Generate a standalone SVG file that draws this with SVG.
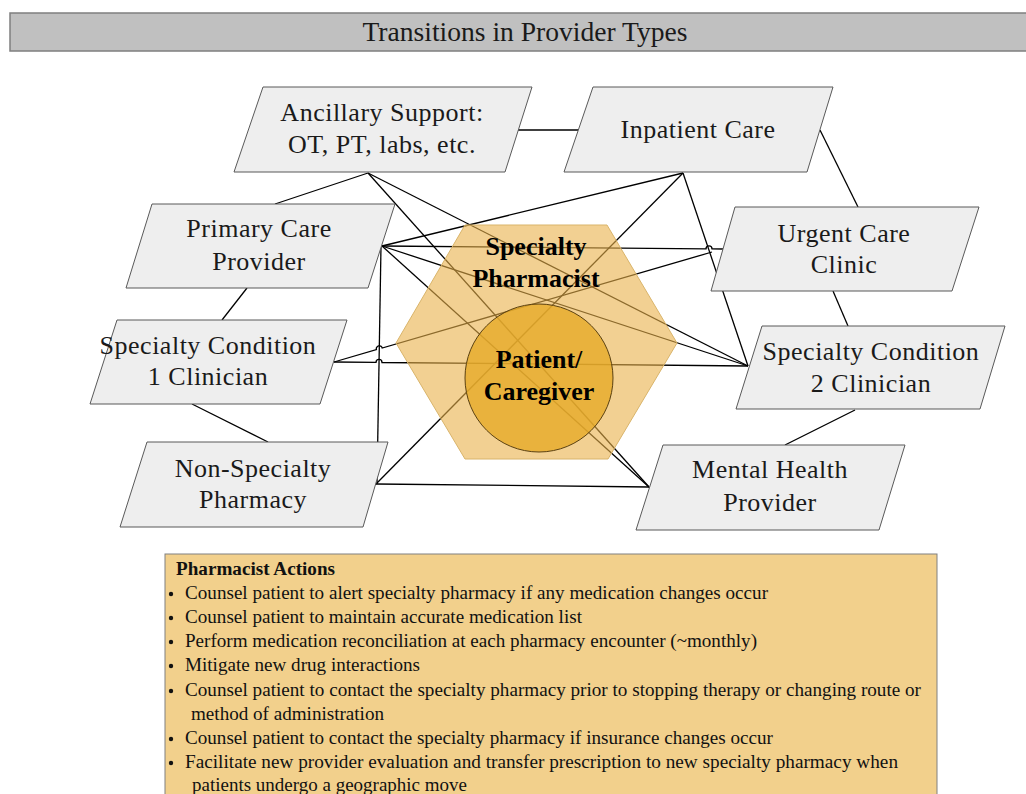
<svg xmlns="http://www.w3.org/2000/svg" width="1026" height="794" viewBox="0 0 1026 794">
<style>
.node{fill:#eeeeee;stroke:#595959;stroke-width:1}
.lbl{font-family:"Liberation Serif","Times New Roman",serif;font-size:26px;letter-spacing:0.5px;fill:#1a1a1a;text-anchor:middle}
.ctr{font-family:"Liberation Serif","Times New Roman",serif;font-size:26px;font-weight:bold;fill:#000;text-anchor:middle}
.conn{fill:none;stroke:#000;stroke-width:1.3}
.act{font-family:"Liberation Serif","Times New Roman",serif;font-size:18.5px;fill:#111}
</style>
<rect width="1026" height="794" fill="#ffffff"/>
<g id="title">
<rect x="10" y="13" width="1030" height="38" fill="#c0c0c0" stroke="#7f7f7f" stroke-width="1.5"/>
<text x="525" y="41" font-family="Liberation Serif, Times New Roman, serif" font-size="27" fill="#1a1a1a" text-anchor="middle" textLength="325" lengthAdjust="spacingAndGlyphs">Transitions in Provider Types</text>
</g>
<g id="connectors" class="conn">
<line x1="518" y1="130" x2="578" y2="130"/>
<line x1="368" y1="173" x2="275" y2="204"/>
<line x1="820" y1="130" x2="858" y2="207"/>
<line x1="833" y1="291" x2="848" y2="326"/>
<line x1="855" y1="410" x2="785" y2="445"/>
<line x1="247" y1="288" x2="222" y2="320"/>
<line x1="192" y1="404" x2="268" y2="442"/>
<line x1="376" y1="484" x2="649" y2="487"/>
<line x1="382" y1="246" x2="683" y2="173"/>
<path d="M382 246 L706 248.9 A3 3 0 0 1 712 248.9 L723 249"/>
<line x1="382" y1="246" x2="748" y2="366"/>
<line x1="382" y1="246" x2="649" y2="487"/>
<line x1="381" y1="246" x2="377" y2="484"/>
<path d="M334 362 L376.4 349.6 A3 3 0 0 1 382.2 348 L712 252"/>
<path d="M334 362 L376 362.4 A3 3 0 0 1 382 362.5 L748 366"/>
<line x1="683" y1="173" x2="376" y2="484"/>
<line x1="683" y1="173" x2="748" y2="366"/>
<line x1="368" y1="173" x2="748" y2="366"/>
<line x1="368" y1="173" x2="649" y2="487"/>
</g>
<g id="specialty-pharmacist">
<polygon points="465,225 607,225 677,343 608,459 465,459 396,343" fill="#eab04a" fill-opacity="0.6" stroke="#d9b46a" stroke-width="1"/>
</g>
<g id="patient-caregiver">
<circle cx="539" cy="378" r="74" fill="#e6aa28" fill-opacity="0.8" stroke="#5a4010" stroke-width="1"/>
</g>
<g id="center-labels">
<text class="ctr" x="536" y="255">Specialty</text>
<text class="ctr" x="536" y="287">Pharmacist</text>
<text class="ctr" x="539" y="368">Patient/</text>
<text class="ctr" x="539" y="400">Caregiver</text>
</g>
<g id="ancillary">
<polygon class="node" points="263,87 532,87 505,172 234,172"/>
<text class="lbl" x="382" y="121">Ancillary Support:</text>
<text class="lbl" x="382" y="153">OT, PT, labs, etc.</text>
</g>
<g id="inpatient">
<polygon class="node" points="593,87 833,87 807,172 564,172"/>
<text class="lbl" x="698" y="138">Inpatient Care</text>
</g>
<g id="urgent">
<polygon class="node" points="735,207 979,207 952,291 711,291"/>
<text class="lbl" x="844" y="242">Urgent Care</text>
<text class="lbl" x="844" y="273">Clinic</text>
</g>
<g id="primary">
<polygon class="node" points="152,204 395,204 368,288 126,288"/>
<text class="lbl" x="259" y="237">Primary Care</text>
<text class="lbl" x="259" y="270">Provider</text>
</g>
<g id="sc1">
<polygon class="node" points="117,320 347,320 320,404 90,404"/>
<text class="lbl" x="208" y="354">Specialty Condition</text>
<text class="lbl" x="208" y="385">1 Clinician</text>
</g>
<g id="nonspecialty">
<polygon class="node" points="147,442 388,442 363,527 120,527"/>
<text class="lbl" x="253" y="477">Non-Specialty</text>
<text class="lbl" x="253" y="508">Pharmacy</text>
</g>
<g id="sc2">
<polygon class="node" points="762,326 1005,326 980,409 736,409"/>
<text class="lbl" x="871" y="360">Specialty Condition</text>
<text class="lbl" x="871" y="392">2 Clinician</text>
</g>
<g id="mental">
<polygon class="node" points="663,445 905,445 879,530 636,530"/>
<text class="lbl" x="770" y="478">Mental Health</text>
<text class="lbl" x="770" y="511">Provider</text>
</g>
<g id="actions">
<rect x="165" y="554" width="772" height="250" fill="#f2d08c" stroke="#808080" stroke-width="1"/>
<text class="act" x="176" y="575" font-weight="bold" textLength="159" lengthAdjust="spacingAndGlyphs">Pharmacist Actions</text>
<g fill="#111">
<circle cx="171" cy="594" r="2.2"/><circle cx="171" cy="618" r="2.2"/><circle cx="171" cy="642" r="2.2"/><circle cx="171" cy="666" r="2.2"/><circle cx="171" cy="691" r="2.2"/><circle cx="171" cy="739" r="2.2"/><circle cx="171" cy="763" r="2.2"/>
</g>
<text class="act" x="185" y="599" textLength="583" lengthAdjust="spacingAndGlyphs">Counsel patient to alert specialty pharmacy if any medication changes occur</text>
<text class="act" x="185" y="623" textLength="397" lengthAdjust="spacingAndGlyphs">Counsel patient to maintain accurate medication list</text>
<text class="act" x="185" y="647" textLength="572" lengthAdjust="spacingAndGlyphs">Perform medication reconciliation at each pharmacy encounter (~monthly)</text>
<text class="act" x="185" y="671" textLength="235" lengthAdjust="spacingAndGlyphs">Mitigate new drug interactions</text>
<text class="act" x="185" y="696" textLength="736" lengthAdjust="spacingAndGlyphs">Counsel patient to contact the specialty pharmacy prior to stopping therapy or changing route or</text>
<text class="act" x="191" y="720" textLength="193" lengthAdjust="spacingAndGlyphs">method of administration</text>
<text class="act" x="185" y="744" textLength="588" lengthAdjust="spacingAndGlyphs">Counsel patient to contact the specialty pharmacy if insurance changes occur</text>
<text class="act" x="185" y="768" textLength="713" lengthAdjust="spacingAndGlyphs">Facilitate new provider evaluation and transfer prescription to new specialty pharmacy when</text>
<text class="act" x="192" y="791" textLength="275" lengthAdjust="spacingAndGlyphs">patients undergo a geographic move</text>
</g>
</svg>
